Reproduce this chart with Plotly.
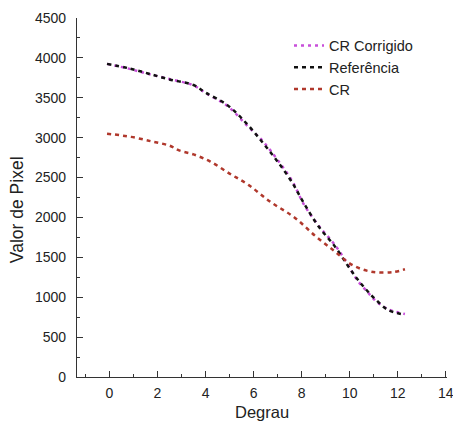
import plotly.graph_objects as go

# Data
ref_x = [-0.1, 0.8, 1.6, 2.5, 3.5, 4.0, 4.9, 5.7, 6.4, 7.0, 7.6, 8.1, 8.7, 9.4, 9.9, 10.3, 10.7, 11.1, 11.6, 12.3]
ref_y = [3925, 3870, 3805, 3730, 3660, 3565, 3410, 3180, 2930, 2700, 2440, 2175, 1890, 1630, 1405, 1235, 1090, 965, 840, 780]

corr_x = [-0.1, 0.8, 1.6, 2.5, 3.5, 4.0, 4.9, 5.7, 6.4, 7.0, 7.6, 8.1, 8.7, 9.4, 9.9, 10.3, 10.7, 11.1, 11.6, 12.3]
corr_y = [3925, 3865, 3800, 3735, 3655, 3560, 3400, 3160, 2950, 2720, 2460, 2160, 1900, 1650, 1420, 1220, 1080, 950, 850, 790]

cr_x = [-0.1, 0.9, 1.8, 2.5, 2.9, 3.5, 4.2, 5.0, 5.8, 6.7, 7.7, 8.6, 9.4, 10.1, 10.9, 11.8, 12.3]
cr_y = [3050, 3010, 2950, 2900, 2840, 2790, 2700, 2550, 2405, 2195, 2000, 1760, 1570, 1405, 1320, 1315, 1350]

names = ["CR Corrigido", "Referência", "CR"]
x_title = "Degrau"
y_title = "Valor de Pixel"

FONT = "Liberation Sans, Arial, sans-serif"

fig = go.Figure()
fig.add_trace(go.Scatter(x=corr_x, y=corr_y, mode="lines", name=names[0],
                         line=dict(color="#c84fda", width=2.5, dash="3px,4px", shape="spline")))
fig.add_trace(go.Scatter(x=ref_x, y=ref_y, mode="lines", name=names[1],
                         line=dict(color="#111111", width=2.5, dash="4px,4px", shape="spline")))
fig.add_trace(go.Scatter(x=cr_x, y=cr_y, mode="lines", name=names[2],
                         line=dict(color="#b0382c", width=2.5, dash="4px,4px", shape="spline")))

fig.update_layout(
    width=453, height=421,
    margin=dict(l=77, r=6, t=18, b=44, autoexpand=False),
    plot_bgcolor="white", paper_bgcolor="white",
    font=dict(family=FONT, color="#222222", size=14),
    showlegend=True,
    legend=dict(x=0.573, y=0.968, xanchor="left", yanchor="top",
                bgcolor="rgba(0,0,0,0)", font=dict(size=14.5, color="#222222"),
                itemwidth=30, tracegroupgap=0),
    annotations=[
        dict(text=x_title, xref="paper", yref="paper", x=0.5, y=-0.066,
             xanchor="center", yanchor="top", showarrow=False,
             font=dict(size=16.5, color="#222222", family=FONT)),
        dict(text=y_title, xref="paper", yref="paper", x=-0.162, y=0.465,
             xanchor="center", yanchor="middle", textangle=-90, showarrow=False,
             font=dict(size=17.5, color="#222222", family=FONT)),
    ],
)
fig.update_xaxes(
    range=[-1.35, 14.05], showgrid=False, zeroline=False,
    showline=True, linecolor="#333333", linewidth=1.2,
    tickmode="linear", tick0=0, dtick=2,
    ticks="inside", ticklen=6, tickcolor="#333333", tickwidth=1.2,
    minor=dict(ticks="inside", ticklen=3, tick0=1, dtick=2, tickcolor="#333333", tickwidth=1),
    tickfont=dict(size=14), ticklabeloverflow="allow", automargin=False,
    ticklabelstandoff=3,
)
fig.update_yaxes(
    range=[0, 4500], showgrid=False, zeroline=False,
    showline=True, linecolor="#333333", linewidth=1.2,
    tickmode="linear", tick0=0, dtick=500,
    ticks="inside", ticklen=6, tickcolor="#333333", tickwidth=1.2,
    minor=dict(ticks="inside", ticklen=3, dtick=250, tickcolor="#333333", tickwidth=1),
    tickfont=dict(size=14), automargin=False,
    ticklabelstandoff=7,
)

fig.write_html("out.html", config={"displayModeBar": False},
               post_script="document.body.style.margin='0';")
